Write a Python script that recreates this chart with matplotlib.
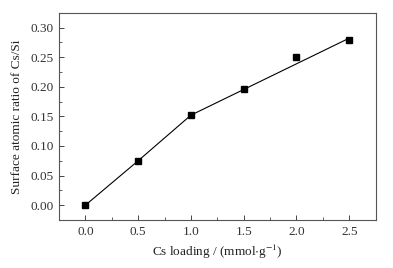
import matplotlib
matplotlib.use('Agg')
import matplotlib.pyplot as plt
from matplotlib.ticker import MultipleLocator

plt.rcParams['font.family'] = ['Liberation Serif', 'DejaVu Serif']
plt.rcParams['mathtext.fontset'] = 'stix'

# measured points
loading = [0.0, 0.5, 1.0, 1.5, 2.0, 2.5]
ratio = [0.0, 0.074, 0.152, 0.196, 0.250, 0.279]
# fitted line
fit_x = [0.0, 0.5, 1.0, 2.5]
fit_y = [0.0, 0.075, 0.152, 0.282]

fig = plt.figure(figsize=(3.93, 2.68), dpi=100)
ax = fig.add_axes([59/393, 1 - 220/268, (375.6 - 59)/393, (220 - 12.7)/268])

ax.plot(fit_x, fit_y, color='black', lw=0.8)
ax.plot(loading, ratio, 's', color='black', ms=3.7)

ax.set_xlim(-0.25, 2.75)
ax.set_ylim(-0.025, 0.325)
ax.xaxis.set_major_locator(MultipleLocator(0.5))
ax.xaxis.set_minor_locator(MultipleLocator(0.25))
ax.yaxis.set_major_locator(MultipleLocator(0.05))
ax.yaxis.set_minor_locator(MultipleLocator(0.025))
ax.xaxis.set_major_formatter(plt.FormatStrFormatter('%.1f'))
ax.yaxis.set_major_formatter(plt.FormatStrFormatter('%.2f'))
ax.tick_params(which='both', direction='in', labelsize=9.5, color='#444444',
               labelcolor='#333333')
ax.tick_params(which='major', length=3.5, width=0.7, pad=4)
ax.tick_params(which='minor', length=2, width=0.6)
for s in ax.spines.values():
    s.set_color('#555555')
    s.set_linewidth(0.8)

ax.set_xlabel(r'Cs loading / (mmol$\cdot$g$^{-1}$)', fontsize=9.5, color='#222222', labelpad=4)
ax.set_ylabel('Surface atomic ratio of Cs/Si', fontsize=9.5, color='#222222', labelpad=5)

fig.savefig('out.png', dpi=100)
